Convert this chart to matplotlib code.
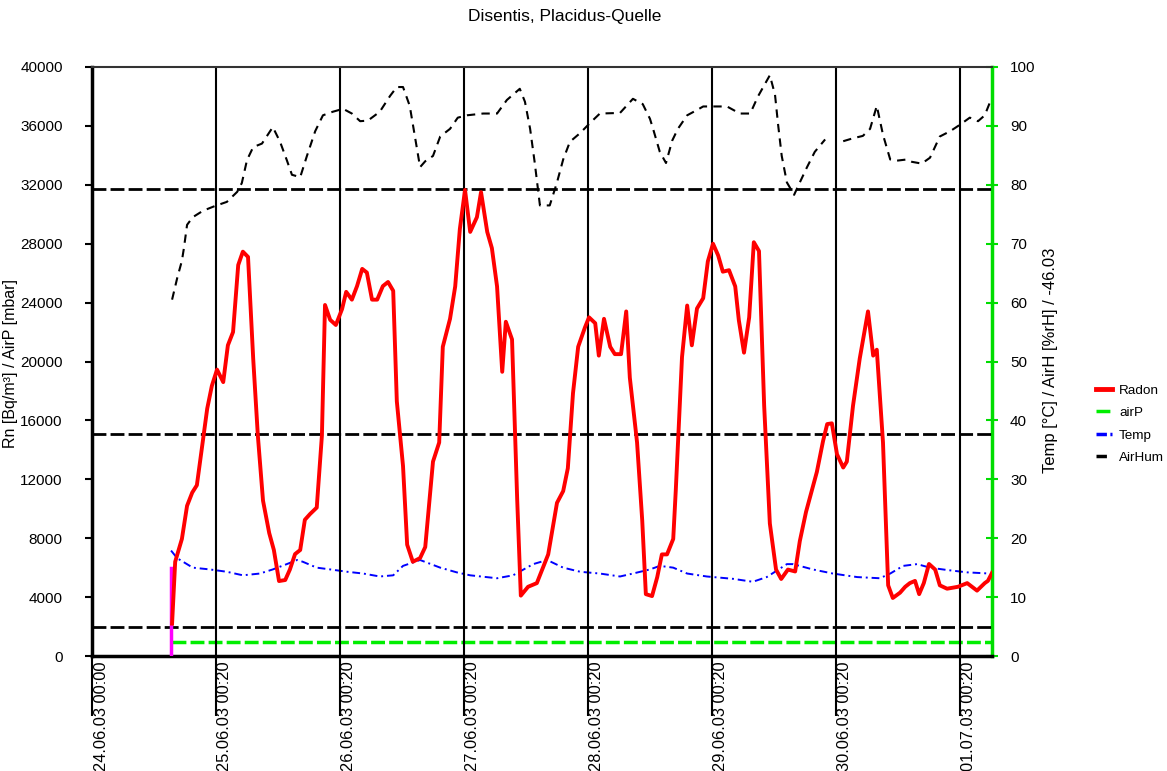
import matplotlib
matplotlib.use('Agg')
import matplotlib.pyplot as plt
from matplotlib.transforms import ScaledTranslation
from matplotlib.lines import Line2D

plt.rcParams['font.family'] = ['Liberation Sans', 'DejaVu Sans']

# time in hours since 24.06.03 00:00
day_ticks = [0, 24, 48, 72, 96, 120, 144, 168]
day_labels = ['24.06.03 00:00', '25.06.03 00:20', '26.06.03 00:20', '27.06.03 00:20',
              '28.06.03 00:20', '29.06.03 00:20', '30.06.03 00:20', '01.07.03 00:20']

radon_h = [15.5, 16.1, 17.4, 18.4, 19.4, 20.3, 21.3, 22.3, 23.2, 24.2, 25.4, 26.3, 27.3, 28.3,
           29.2, 30.2, 31.2, 32.1, 33.1, 34.3, 35.2, 36.2, 37.4, 38.3, 39.3, 40.3, 41.2, 42.2,
           43.5, 44.5, 45.1, 46.1, 47.2, 48.4, 49.2, 50.3, 51.3, 52.3, 53.2, 54.2, 55.2, 56.3,
           57.3, 58.3, 59.0, 60.2, 61.0, 62.1, 63.5, 64.5, 66.0, 67.2, 67.9, 69.3, 70.3, 71.2,
           72.2, 73.2, 74.5, 75.3, 76.5, 77.4, 78.4, 79.4, 80.1, 81.3, 82.3, 83.0, 84.4, 86.1,
           88.3, 90.0, 91.2, 92.1, 93.1, 94.1, 95.4, 96.2, 97.4, 98.1, 99.1, 100.3, 101.2, 102.4,
           103.4, 104.1, 105.5, 106.5, 107.2, 108.4, 109.4, 110.3, 111.3, 112.5, 113.0, 114.2,
           115.2, 116.1, 117.1, 118.3, 119.2, 120.2, 121.2, 122.1, 123.3, 124.5, 125.2, 126.2,
           127.2, 128.1, 129.1, 130.1, 131.2, 132.4, 133.4, 134.7, 136.1, 137.0, 138.2, 139.4,
           140.3, 141.5, 142.3, 143.2, 144.2, 145.4, 146.1, 147.3, 148.6, 150.2, 151.2, 151.9,
           153.1, 154.1, 155.0, 156.4, 157.4, 158.3, 159.3, 160.1, 161.0, 162.0, 163.2, 164.1,
           165.5, 167.6, 169.4, 171.3, 172.8, 173.4, 174.2]
radon = [2200, 6400, 7950, 10200, 11100, 11600, 14200, 16800, 18350, 19450, 18600, 21100, 22000, 26550,
         27460, 27100, 20200, 14970, 10550, 8350, 7200, 5090, 5160, 5870, 6920, 7200, 9250, 9640,
         10080, 14970, 23840, 22830, 22480, 23560, 24730, 24200, 25120, 26290, 26040, 24200, 24200, 25120,
         25400, 24800, 17300, 12900, 7560, 6400, 6650, 7400, 13200, 14500, 21000, 22900, 25100, 29000,
         31650, 28800, 29800, 31500, 28800, 27700, 25100, 19300, 22700, 21500, 10600, 4100, 4700, 4950,
         6900, 10400, 11200, 12750, 17850, 21000, 22300, 23000, 22600, 20400, 22900, 21000, 20500, 20500,
         23400, 18900, 14500, 9200, 4200, 4070, 5350, 6900, 6900, 7950, 11300, 20300,
         23800, 21100, 23600, 24300, 26800, 28000, 27200, 26100, 26200, 25100, 22800, 20600,
         23000, 28100, 27500, 17000, 9000, 5870, 5230, 5870, 5740, 7800, 9780, 11340,
         12500, 14600, 15750, 15800, 13700, 12800, 13200, 17000, 20200, 23400, 20400, 20800,
         14500, 4800, 3940, 4300, 4700, 4950, 5100, 4200, 4950, 6250, 5870, 4800,
         4570, 4700, 4950, 4440, 4950, 5100, 5640]

airhum_h = [15.5, 16.5, 17.4, 17.8, 18.4, 19.5, 21.5, 23.8, 26.1, 28.1, 29.0, 30.0, 31.2, 32.9,
            35.0, 36.4, 37.7, 38.7, 40.3, 41.6, 43.2, 44.7, 46.6, 48.6, 50.3, 51.9, 53.4, 55.7,
            57.7, 59.0, 60.2, 61.5, 62.5, 63.5, 64.5, 66.0, 67.4, 69.3, 70.8, 72.6, 75.7, 78.4,
            80.3, 82.8, 83.8, 84.8, 85.7, 86.7, 88.6, 90.0, 91.2, 92.5, 94.5, 96.4, 98.3, 102.2,
            104.7, 106.6, 108.0, 108.6, 109.9, 111.1, 112.3, 113.4, 115.2, 117.1, 118.3, 122.9,
            125.4, 127.4, 128.9, 131.2, 132.2, 132.8, 133.5, 134.5, 135.9, 137.0, 138.4, 139.9,
            141.9, 143.5, 145.4, 147.3, 149.2, 150.6, 151.9, 153.1, 154.5, 155.8, 157.7, 158.7,
            160.6, 162.2, 164.1, 166.1, 168.0, 169.9, 171.5, 172.8, 173.8]
airhum = [60.5, 64.2, 67.1, 69.3, 73.2, 74.5, 75.6, 76.4, 77.1, 78.8, 80.3, 84.2, 86.4, 87.0,
          89.8, 87.3, 84.2, 81.7, 81.3, 84.9, 89.1, 91.8, 92.4, 92.9, 92.1, 90.8, 90.9, 92.4,
          95.1, 96.6, 96.6, 93.4, 88.2, 83.0, 84.0, 84.9, 88.2, 89.5, 91.4, 91.8, 92.1, 92.1,
          94.4, 96.3, 94.1, 89.5, 83.7, 76.5, 76.5, 80.4, 84.3, 87.3, 88.8, 90.5, 92.1, 92.2,
          94.6, 93.7, 91.2, 89.5, 85.6, 83.7, 87.5, 89.5, 91.8, 92.7, 93.3, 93.3,
          92.1, 92.1, 95.0, 98.6, 95.3, 90.2, 84.9, 80.4, 78.3, 80.4, 83.0, 85.6,
          87.7, float('nan'), 87.4, 87.9, 88.3, 89.5, 93.4, 88.5, 84.3, 84.1, 84.3, 83.9,
          83.6, 84.6, 88.2, 89.1, 90.2, 91.4, 90.8, 91.8, 94.0]

temp_h = [15.3, 16.5, 19.5, 22.8, 26.1, 29.2, 32.5, 35.0, 37.7, 39.7, 40.8, 43.5, 46.1, 49.4,
          52.5, 55.7, 58.3, 60.2, 63.5, 67.4, 70.6, 73.2, 78.4, 81.5, 85.4, 88.1, 91.2, 94.5,
          98.3, 102.2, 104.7, 108.0, 109.9, 112.5, 115.2, 119.0, 124.1, 127.9, 130.6, 134.5,
          135.7, 139.5, 143.4, 148.1, 152.5, 154.5, 157.0, 159.7, 162.2, 165.5, 169.4, 173.8]
temp = [17.9, 16.6, 15.0, 14.7, 14.3, 13.7, 14.0, 14.7, 15.6, 16.3, 16.0, 15.0, 14.7, 14.3,
        14.0, 13.5, 13.7, 15.3, 16.3, 15.0, 14.2, 13.7, 13.2, 13.7, 15.6, 16.3, 15.0, 14.3,
        14.0, 13.5, 14.0, 14.7, 15.3, 15.0, 14.0, 13.5, 13.1, 12.6, 13.4, 15.6,
        15.6, 14.7, 14.0, 13.4, 13.2, 14.0, 15.3, 15.6, 15.0, 14.6, 14.2, 14.0]

airp_h = [15.5, 174.2]
airp = [2.4, 2.4]

start_h = [15.2, 15.2]
start_val = [0, 6000]

ref_levels = [2000, 15100, 31700]

fig = plt.figure(figsize=(11.67, 7.71), dpi=100)
ax = fig.add_axes([92/1167, 1 - 656/771, 900/1167, 589/771])
ax2 = ax.twinx()
ax.set_zorder(ax2.get_zorder() + 1)
ax.patch.set_visible(False)

ax.set_xlim(0, 174.2)
ax.set_ylim(0, 40000)
ax2.set_ylim(0, 100)

for d in day_ticks:
    ax.axvline(d, color='black', lw=1.5, zorder=1)
for r in ref_levels:
    ax.axhline(r, color='black', lw=2.0, ls=(0, (5, 1.5)), zorder=2)

ax2.plot(airp_h, airp, color='#00ee00', lw=2.5, ls=(0, (4, 1.2)), label='airP')
ax2.plot(temp_h, temp, color='blue', lw=1.4, ls=(0, (4, 2, 1, 2)), label='Temp')
ax2.plot(airhum_h, airhum, color='black', lw=1.5, ls=(0, (4, 3)), label='AirHum')
ax.plot(start_h, start_val, color='magenta', lw=2.5, zorder=4)
ax.plot(radon_h, radon, color='red', lw=2.8, zorder=5, label='Radon')

# spines
ax.spines['right'].set_visible(False)
for s in ['left', 'top', 'bottom']:
    ax2.spines[s].set_visible(False)
ax.spines['left'].set_linewidth(2.5)
ax.spines['bottom'].set_linewidth(2.5)
ax.spines['top'].set_linewidth(1.5)
ax.spines['top'].set_color('#333333')
ax2.spines['right'].set_color('#00dd00')
ax2.spines['right'].set_linewidth(2.5)

ax.set_yticks(list(range(0, 40001, 4000)))
ax.tick_params(axis='y', direction='out', length=5, width=1.5, labelsize=11, pad=16)
ax2.set_yticks(list(range(0, 101, 10)))
ax2.tick_params(axis='y', direction='inout', length=8, width=1.5, colors='#00dd00',
                labelcolor='black', labelsize=11, pad=9)

ax.set_xticks(day_ticks)
ax.set_xticklabels(day_labels, rotation=90, fontsize=11.8)
ax.tick_params(axis='x', direction='out', length=43, width=1.5, pad=-39)
off = ScaledTranslation(9/100, 0, fig.dpi_scale_trans)
for lab in ax.get_xticklabels():
    lab.set_transform(lab.get_transform() + off)
    lab.set_va('top')

fig.text(565/1167, 1 - 17/771, 'Disentis, Placidus-Quelle', ha='center', va='center', fontsize=12.5)
fig.text(11/1167, 1 - 363/771, 'Rn [Bq/m³] / AirP [mbar]', rotation=90, ha='center', va='center', fontsize=11.5)
fig.text(1050/1167, 1 - 360/771, 'Temp [°C] / AirH [%rH] / -46.03', rotation=90, ha='center', va='center', fontsize=12)

handles = [Line2D([], [], color='red', lw=3.5),
           Line2D([], [], color='#00ee00', lw=2.5, ls=(0, (4, 1.2))),
           Line2D([], [], color='blue', lw=2.5, ls=(0, (3, 1, 1, 1))),
           Line2D([], [], color='black', lw=2.5, ls=(0, (3, 2)))]
fig.legend(handles, ['Radon', 'airP', 'Temp', 'AirHum'], loc='upper left',
           bbox_to_anchor=(1084/1167, 1 - 372/771), frameon=False, fontsize=9.7,
           handlelength=1.2, labelspacing=0.75, handletextpad=0.5)

fig.savefig('out.png', dpi=100)
